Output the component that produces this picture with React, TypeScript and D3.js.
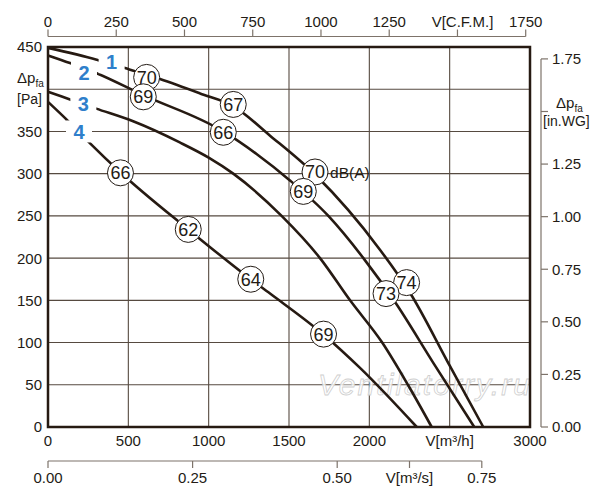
import * as d3 from 'd3';

// volume flow [m3/h] / static pressure [Pa]
const curve1Flow = [0, 303, 479, 697, 946, 1153, 1382, 1662, 2066, 2253, 2502, 2709];
const curve1Pressure = [449, 435, 425, 412, 395, 380, 345, 299, 210, 159, 72, 0];
const curve2Flow = [0, 137, 303, 593, 1091, 1300, 1506, 1745, 1963, 2160, 2398, 2653];
const curve2Pressure = [440, 431, 419, 393, 350, 323, 292, 250, 200, 148, 76, 0];
const curve3Flow = [0, 150, 300, 530, 820, 1000, 1153, 1454, 1693, 1880, 2080, 2240, 2388];
const curve3Pressure = [397, 387, 377, 362, 337, 319, 300, 250, 200, 150, 100, 50, 0];
const curve4Flow = [0, 127, 251, 448, 873, 1262, 1382, 1718, 1942, 2295];
const curve4Pressure = [385, 362, 338, 302, 234, 175, 158, 109, 70, 0];

const curveNames = ['1', '2', '3', '4'];
const curveNameFlow = [396, 224, 220, 193];
const curveNamePressure = [432, 420, 383, 350];

// noise levels dB(A)
const soundFlow = [614, 1153, 1662, 2232, 593, 1091, 1589, 2104, 451, 873, 1262, 1715];
const soundPressure = [414, 382, 302, 171, 391, 349, 279, 158, 301, 234, 175, 110];
const soundLevel = ['70', '67', '70', '74', '69', '66', '69', '73', '66', '62', '64', '69'];

const flowTicks = [0, 500, 1000, 1500, 2000, 2500, 3000];
const flowLabels = ['0', '500', '1000', '1500', '2000', 'V[m³/h]', '3000'];
const pressureTicks = [0, 50, 100, 150, 200, 250, 300, 350, 400, 450];
const cfmTicks = [0, 250, 500, 750, 1000, 1250, 1500, 1750];
const cfmLabels = ['0', '250', '500', '750', '1000', '1250', 'V[C.F.M.]', '1750'];
const inwgTicks = [0, 0.25, 0.5, 0.75, 1, 1.25, 1.5, 1.75];
const m3sTicks = [0, 0.25, 0.5, 0.625, 0.75];
const m3sLabels = ['0.00', '0.25', '0.50', 'V[m³/s]', '0.75'];

const FONT = "Arial, 'Liberation Sans', sans-serif";
const INK = '#231b15';
const LINE = '#261a12';
const GRID = '#564a40';
const AXIS = '#7d736a';
const BLUE = '#2f7fcb';

export default function App() {
    const plot = { left: 48, right: 530, top: 47, bottom: 427 };

    const x = d3.scaleLinear().domain([0, 3000]).range([plot.left, plot.right]);
    const y = d3.scaleLinear().domain([0, 450]).range([plot.bottom, plot.top]);
    const xCfm = d3.scaleLinear().domain([0, 3000 / 1.69901]).range([plot.left, plot.right]);
    const yInWg = d3.scaleLinear().domain([0, 450 / 249.089]).range([plot.bottom, plot.top]);
    const xM3s = d3.scaleLinear().domain([0, 3000 / 3600]).range([plot.left, plot.right]);

    const line = d3.line<[number, number]>()
        .x(d => x(d[0]))
        .y(d => y(d[1]))
        .curve(d3.curveMonotoneX);

    const curves = [
        d3.zip(curve1Flow, curve1Pressure),
        d3.zip(curve2Flow, curve2Pressure),
        d3.zip(curve3Flow, curve3Pressure),
        d3.zip(curve4Flow, curve4Pressure),
    ] as [number, number][][];

    const cfmY = 36.5;
    const rightX = 541;
    const m3sY = 461;

    return (
        <div style={{ position: 'absolute', left: 0, top: 0 }}>
            <svg width={600} height={500} style={{ display: 'block', background: '#fff' }} fontFamily={FONT}>
                {/* grid */}
                {flowTicks.filter(t => t > 0 && t < 3000).map(t => (
                    <line key={'gx' + t} x1={x(t)} x2={x(t)} y1={plot.top} y2={plot.bottom} stroke={GRID} strokeWidth={1.1} />
                ))}
                {pressureTicks.filter(t => t > 0 && t < 450).map(t => (
                    <line key={'gy' + t} x1={plot.left} x2={plot.right} y1={y(t)} y2={y(t)} stroke={GRID} strokeWidth={1.1} />
                ))}

                {/* watermark */}
                <text x={x(1680)} y={y(50) + 10} fontSize={30} fontStyle="italic" textLength={212}
                    fill="#fff" fillOpacity={0.85} stroke="#cfcfcf" strokeWidth={0.8}>Ventilatorry.ru</text>

                {/* curves */}
                {curves.map((c, i) => (
                    <path key={'c' + i} d={line(c) || ''} fill="none" stroke={LINE} strokeWidth={2.6} />
                ))}

                {/* curve numbers */}
                {curveNames.map((n, i) => (
                    <g key={'n' + n}>
                        <rect x={x(curveNameFlow[i]) - 13} y={y(curveNamePressure[i]) - 11} width={26} height={22} fill="#fff" />
                        <text x={x(curveNameFlow[i])} y={y(curveNamePressure[i])} dy="0.36em" textAnchor="middle"
                            fontSize={20} fontWeight="bold" fill={BLUE}>{n}</text>
                    </g>
                ))}

                {/* sound level circles */}
                {soundLevel.map((s, i) => (
                    <g key={'s' + i}>
                        <circle cx={x(soundFlow[i])} cy={y(soundPressure[i])} r={13} fill="#fff" stroke={INK} strokeWidth={1} />
                        <text x={x(soundFlow[i])} y={y(soundPressure[i])} dy="0.36em" textAnchor="middle" fontSize={18} fill={INK}>{s}</text>
                    </g>
                ))}
                <text x={x(soundFlow[2]) + 15} y={y(soundPressure[2])} dy="0.36em" fontSize={15.5} fill={INK}>dB(A)</text>

                {/* plot frame */}
                <rect x={plot.left} y={plot.top} width={plot.right - plot.left} height={plot.bottom - plot.top}
                    fill="none" stroke={LINE} strokeWidth={2.5} />

                {/* left axis labels */}
                {pressureTicks.filter(t => t !== 400).map(t => (
                    <text key={'ly' + t} x={42} y={y(t)} dy="0.36em" textAnchor="end" fontSize={15} fill={INK}>{t}</text>
                ))}
                <text x={17} y={83} fontSize={15} fill={INK}>Δp<tspan fontSize={10} dy={4}>fa</tspan></text>
                <text x={17} y={104} fontSize={14} fill={INK}>[Pa]</text>

                {/* bottom axis labels m3/h */}
                {flowTicks.map((t, i) => (
                    <text key={'lx' + t} x={x(t)} y={446} textAnchor="middle" fontSize={15} fill={INK}>{flowLabels[i]}</text>
                ))}

                {/* top axis CFM */}
                <line x1={xCfm(0)} x2={xCfm(1750)} y1={cfmY} y2={cfmY} stroke={AXIS} strokeWidth={1.2} />
                {cfmTicks.map((t, i) => (
                    <g key={'cfm' + t}>
                        <line x1={xCfm(t)} x2={xCfm(t)} y1={cfmY} y2={cfmY - 7} stroke={AXIS} strokeWidth={1.2} />
                        <text x={xCfm(t) + (t === 1500 ? 5 : 0)} y={27} textAnchor="middle" fontSize={15} fill={INK}>{cfmLabels[i]}</text>
                    </g>
                ))}

                {/* right axis in.WG */}
                <line x1={rightX} x2={rightX} y1={yInWg(1.75)} y2={yInWg(0)} stroke={AXIS} strokeWidth={1.2} />
                {inwgTicks.map(t => (
                    <g key={'wg' + t}>
                        <line x1={rightX} x2={rightX + 7} y1={yInWg(t)} y2={yInWg(t)} stroke={AXIS} strokeWidth={1.2} />
                        {t !== 1.5 && (
                            <text x={rightX + 11} y={yInWg(t)} dy="0.36em" fontSize={15} fill={INK}>{t.toFixed(2)}</text>
                        )}
                    </g>
                ))}
                <text x={556} y={108} fontSize={15} fill={INK}>Δp<tspan fontSize={10} dy={4}>fa</tspan></text>
                <text x={543} y={126} fontSize={14} fill={INK}>[in.WG]</text>

                {/* bottom axis m3/s */}
                <line x1={xM3s(0)} x2={xM3s(0.75)} y1={m3sY} y2={m3sY} stroke={AXIS} strokeWidth={1.2} />
                {m3sTicks.map((t, i) => (
                    <g key={'ms' + t}>
                        <line x1={xM3s(t)} x2={xM3s(t)} y1={m3sY} y2={m3sY + 7} stroke={AXIS} strokeWidth={1.2} />
                        <text x={xM3s(t)} y={483} textAnchor="middle" fontSize={15} fill={INK}>{m3sLabels[i]}</text>
                    </g>
                ))}
            </svg>
        </div>
    );
}
